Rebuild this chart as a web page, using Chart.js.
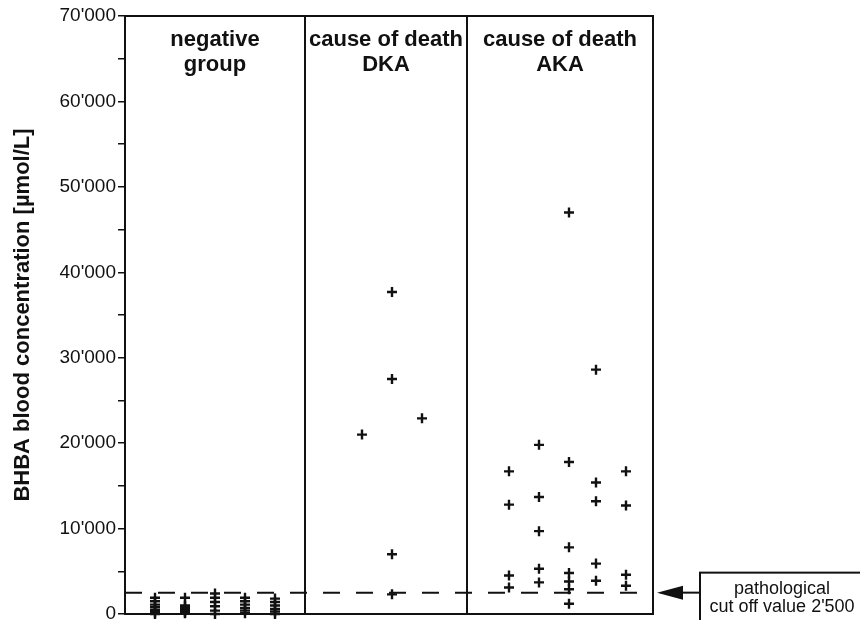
<!DOCTYPE html>
<html>
<head>
<meta charset="utf-8">
<script src="https://cdn.jsdelivr.net/npm/chart.js@4/dist/chart.umd.min.js"></script>
<style>
  html, body { margin: 0; padding: 0; background: #fff; overflow: hidden; }
  #wrap { width: 860px; height: 620px; overflow: hidden; }
</style>
</head>
<body>
<div id="wrap"><canvas id="bhbaChart" width="860" height="640"></canvas></div>
<script>
// 群の見出しと区切り位置（x軸の単位）
const groupLabels = [["negative", "group"], ["cause of death", "DKA"], ["cause of death", "AKA"]];
const groupBounds = [0, 6, 11.4, 17.6];

// 各群の列位置と測定値 [µmol/L]
const negativeColumns = [1, 2, 3, 4, 5];
const negativeValues = [
  [1900, 1500, 1100, 800, 500, 200, 0],
  [1900, 1000, 800, 600, 400, 200, 100],
  [2400, 1900, 1400, 900, 400, 0],
  [1900, 1500, 1100, 700, 400, 100],
  [1800, 1400, 1000, 600, 300, 0],
];
const dkaColumns = [7.9, 8.9, 9.9];
const dkaValues = [
  [21000],
  [37700, 27500, 7000, 2300],
  [22900],
];
const akaColumns = [12.8, 13.8, 14.8, 15.7, 16.7];
const akaValues = [
  [16700, 12800, 4500, 3100],
  [19800, 13700, 9700, 5300, 3700],
  [47000, 17800, 7800, 4800, 3800, 2900, 1200],
  [28600, 15400, 13200, 5900, 3900],
  [16700, 12700, 4600, 3300],
];

// カットオフ値
const cutoffValue = 2500;
const cutoffText = ["pathological", "cut off value 2'500"];

// y軸目盛
const yMin = 0;
const yMax = 70000;
const yStep = 5000;

const FONT = "'Liberation Sans', Arial, Helvetica, sans-serif";

function toPoints(columns, values) {
  const pts = [];
  columns.forEach((x, i) => {
    values[i].forEach((v) => pts.push({ x: x, y: v }));
  });
  return pts;
}

function formatThousands(v) {
  return String(v).replace(/\B(?=(\d{3})+(?!\d))/g, "'");
}

// 枠・区切り線・見出し・矢印付きボックスを描く
const framePlugin = {
  id: "frame",
  afterDatasetsDraw(chart) {
    const ctx = chart.ctx;
    const area = chart.chartArea;
    const xs = chart.scales.x;
    const ys = chart.scales.y;
    ctx.save();
    ctx.strokeStyle = "#111";
    ctx.lineWidth = 2;
    ctx.strokeRect(area.left, area.top, area.right - area.left, area.bottom - area.top);
    groupBounds.slice(1, -1).forEach((b) => {
      const px = Math.round(xs.getPixelForValue(b));
      ctx.beginPath();
      ctx.moveTo(px, area.top);
      ctx.lineTo(px, area.bottom);
      ctx.stroke();
    });

    // 見出し
    ctx.fillStyle = "#111";
    ctx.font = "bold 22px " + FONT;
    ctx.textAlign = "center";
    ctx.textBaseline = "middle";
    groupLabels.forEach((lines, i) => {
      const cx = (xs.getPixelForValue(groupBounds[i]) + xs.getPixelForValue(groupBounds[i + 1])) / 2;
      lines.forEach((t, j) => ctx.fillText(t, cx, area.top + 24 + j * 25));
    });

    // カットオフ注記
    const cy = ys.getPixelForValue(cutoffValue);
    const boxLeft = area.right + 47;
    const tip = area.right + 4;
    ctx.beginPath();
    ctx.moveTo(tip + 26, cy);
    ctx.lineTo(boxLeft, cy);
    ctx.stroke();
    ctx.beginPath();
    ctx.moveTo(tip, cy);
    ctx.lineTo(tip + 26, cy - 7);
    ctx.lineTo(tip + 26, cy + 7);
    ctx.closePath();
    ctx.fill();
    ctx.strokeRect(boxLeft, cy - 20, 200, 60);
    ctx.font = "18px " + FONT;
    cutoffText.forEach((t, j) => ctx.fillText(t, boxLeft + 82, cy - 4 + j * 18));
    ctx.restore();
  },
};

const crossStyle = {
  pointStyle: "cross",
  pointRadius: 5,
  pointHoverRadius: 5,
  pointBorderWidth: 2.4,
  borderColor: "#111",
  backgroundColor: "#111",
  showLine: false,
  clip: false,
};

new Chart(document.getElementById("bhbaChart"), {
  type: "scatter",
  data: {
    datasets: [
      Object.assign({ label: "negative", data: toPoints(negativeColumns, negativeValues) }, crossStyle),
      Object.assign({ label: "DKA", data: toPoints(dkaColumns, dkaValues) }, crossStyle),
      Object.assign({ label: "AKA", data: toPoints(akaColumns, akaValues) }, crossStyle),
      {
        label: "cutoff",
        data: [
          { x: groupBounds[0], y: cutoffValue },
          { x: groupBounds[groupBounds.length - 1], y: cutoffValue },
        ],
        showLine: true,
        borderColor: "#111",
        borderWidth: 2,
        borderDash: [17, 16],
        pointRadius: 0,
        clip: false,
      },
    ],
  },
  options: {
    responsive: false,
    animation: false,
    events: [],
    layout: { padding: { left: 0, right: 207, top: 16, bottom: 26 } },
    plugins: { legend: { display: false }, tooltip: { enabled: false } },
    scales: {
      x: {
        type: "linear",
        display: false,
        min: groupBounds[0],
        max: groupBounds[groupBounds.length - 1],
      },
      y: {
        min: yMin,
        max: yMax,
        afterFit(scale) {
          scale.width = 125;
        },
        ticks: {
          stepSize: yStep,
          color: "#111",
          font: { family: FONT, size: 19 },
          padding: 2,
          callback: (v) => (v % 10000 === 0 ? formatThousands(v) : ""),
        },
        grid: {
          drawOnChartArea: false,
          drawTicks: true,
          tickLength: 7,
          color: "#111",
          lineWidth: 1.5,
        },
        border: { display: true, color: "#111", width: 2 },
        title: {
          display: true,
          text: "BHBA blood concentration [µmol/L]",
          color: "#111",
          font: { family: FONT, size: 22, weight: "bold" },
          padding: { top: 10, bottom: 0 },
        },
      },
    },
  },
  plugins: [framePlugin],
});
</script>
</body>
</html>
